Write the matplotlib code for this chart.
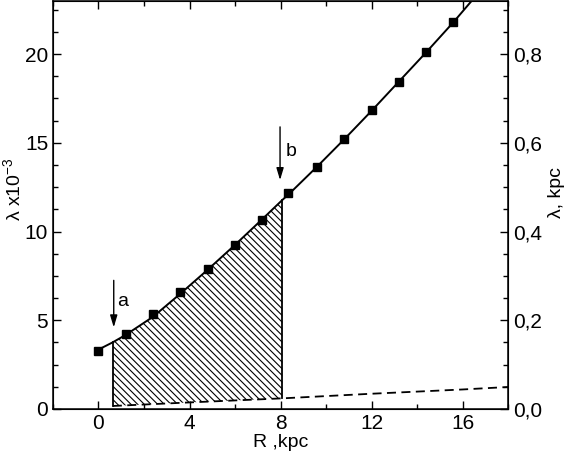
import numpy as np
import matplotlib
matplotlib.use("Agg")
import matplotlib.pyplot as plt
from matplotlib.ticker import MultipleLocator, FuncFormatter

plt.rcParams['font.family'] = ['Liberation Sans', 'DejaVu Sans']
plt.rcParams['mathtext.default'] = 'regular'
plt.rcParams['hatch.linewidth'] = 0.8

# measured points (squares)
r_pts = [0.0, 1.2, 2.4, 3.6, 4.8, 6.0, 7.2, 8.35, 9.6, 10.8, 12.0, 13.2, 14.4, 15.6]
lam_pts = [3.27, 4.21, 5.34, 6.58, 7.87, 9.24, 10.65, 12.16, 13.66, 15.22, 16.84, 18.45, 20.1, 21.83]

# solid curve
r_fit = [0.0, 0.63, 1.2, 2.4, 3.6, 4.8, 6.0, 7.2, 8.08, 8.4, 9.6, 10.8, 12.0, 13.2, 14.4, 15.6, 16.6]
lam_fit = [3.35, 3.76, 4.18, 5.2, 6.5, 7.85, 9.25, 10.7, 11.78, 12.15, 13.65, 15.2, 16.8, 18.45, 20.1, 21.8, 23.3]

# dashed curve
r_dash = [0.63, 4.0, 8.08, 12.0, 16.0, 18.0]
lam_dash = [0.17, 0.37, 0.6, 0.86, 1.1, 1.24]

# hatched region bounds
r_a, r_b = 0.63, 8.08

fig = plt.figure(figsize=(5.68, 4.58), dpi=100)
ax = fig.add_axes([0.0933, 0.107, 0.8011, 0.891])

ax.plot(r_fit, lam_fit, color='black', lw=1.4, zorder=3)
ax.plot(r_pts, lam_pts, 's', color='black', ms=5.5, zorder=4)
ax.plot(r_dash, lam_dash, color='black', lw=1.3, ls=(0, (5, 3)), zorder=3)

# hatched area between the curves
xs = np.array([r_a] + [x for x in r_fit if r_a < x < r_b] + [r_b])
top = np.interp(xs, r_fit, lam_fit)
bot = np.interp(xs, r_dash, lam_dash)
ax.fill_between(xs, bot, top, facecolor='none', edgecolor='black',
                hatch='\\' * 5, lw=0, zorder=2)
ax.plot([r_a, r_a], [np.interp(r_a, r_dash, lam_dash), np.interp(r_a, r_fit, lam_fit)],
        color='black', lw=1.3, zorder=3)
ax.plot([r_b, r_b], [np.interp(r_b, r_dash, lam_dash), np.interp(r_b, r_fit, lam_fit)],
        color='black', lw=1.3, zorder=3)

# arrows
ap = dict(arrowstyle='-|>,head_length=0.6,head_width=0.18', color='black', lw=1.0,
          mutation_scale=12, shrinkA=0, shrinkB=0)
ax.annotate('', xy=(0.67, 4.6), xytext=(0.67, 7.25), arrowprops=ap)
ax.annotate('', xy=(7.98, 12.9), xytext=(7.98, 15.9), arrowprops=ap)
ax.text(1.07, 6.05, 'a', fontsize=14, ha='center', va='center')
ax.text(8.46, 14.5, 'b', fontsize=14, ha='center', va='center')

ax.set_xlim(-2, 18)
ax.set_ylim(0, 23)
ax.xaxis.set_major_locator(MultipleLocator(4))
ax.xaxis.set_minor_locator(MultipleLocator(2))
ax.yaxis.set_major_locator(MultipleLocator(5))
ax.yaxis.set_minor_locator(MultipleLocator(1.25))
ax.tick_params(which='both', direction='in', top=True, right=False, labelsize=15, width=1.0)
ax.tick_params(which='major', length=6)
ax.tick_params(which='minor', length=3.5)
for s in ax.spines.values():
    s.set_linewidth(1.1)

ax.set_xlabel('R ,kpc', fontsize=14, labelpad=1)
ax.set_ylabel('λ x10$^{-3}$', fontsize=14)
ax.yaxis.set_label_coords(-0.064, 0.54)

ax2 = ax.twinx()
ax2.set_ylim(0, 23 * 0.04)
ax2.yaxis.set_major_locator(MultipleLocator(0.2))
ax2.yaxis.set_minor_locator(MultipleLocator(0.05))
ax2.yaxis.set_major_formatter(FuncFormatter(lambda v, p: f'{v:.1f}'.replace('.', ',')))
ax2.tick_params(which='both', direction='in', labelsize=15, width=1.0)
ax2.tick_params(which='major', length=6)
ax2.tick_params(which='minor', length=3.5)
ax2.set_ylabel('λ, kpc', fontsize=14)
ax2.yaxis.set_label_coords(1.088, 0.53)

fig.savefig('out.png', dpi=100)
